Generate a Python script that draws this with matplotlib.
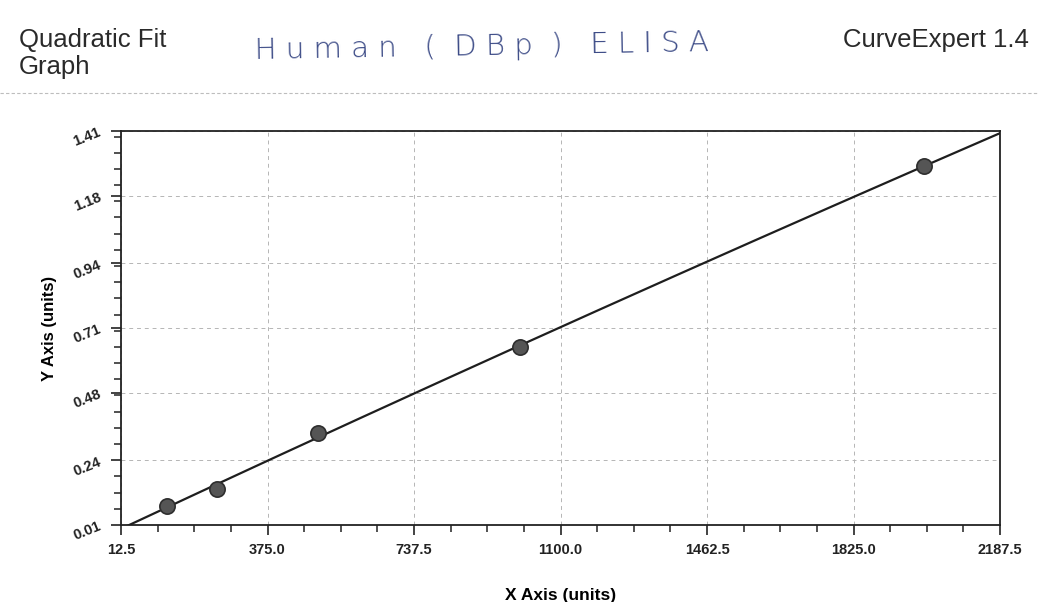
import matplotlib

matplotlib.use("Agg")
import matplotlib.pyplot as plt
import numpy as np
from matplotlib.ticker import AutoMinorLocator

# standards
conc = [125.0, 250.0, 500.0, 1000.0, 2000.0]
od = [0.078, 0.138, 0.337, 0.642, 1.286]

x_ticks = [12.5, 375.0, 737.5, 1100.0, 1462.5, 1825.0, 2187.5]
y_ticks = [0.01, 0.24, 0.48, 0.71, 0.94, 1.18, 1.41]
y_tick_labels = ["0.01", "0.24", "0.48", "0.71", "0.94", "1.18", "1.41"]

plt.rcParams["font.family"] = ["Liberation Sans", "DejaVu Sans"]

fig = plt.figure(figsize=(10.39, 6.02), dpi=100)
ax = fig.add_axes([0.1165, 0.128, 0.846, 0.6545])

# quadratic fit of the standards, as the page title says
coef = np.polyfit(conc, od, 2)
xs = np.linspace(x_ticks[0], x_ticks[-1], 400)
ax.plot(xs, np.polyval(coef, xs), color="#1e1e1e", lw=1.6, zorder=3)
ax.plot(conc, od, "o", ms=11, mfc="#555555", mec="#2e2e2e", mew=1.2, zorder=4)

ax.set_xlim(x_ticks[0], x_ticks[-1])
ax.set_ylim(y_ticks[0], y_ticks[-1])
ax.set_xticks(x_ticks)
ax.set_xticklabels([f"{v:.1f}" for v in x_ticks])
ax.set_yticks(y_ticks)
ax.set_yticklabels(y_tick_labels, rotation=22)
ax.xaxis.set_minor_locator(AutoMinorLocator(4))
ax.yaxis.set_minor_locator(AutoMinorLocator(4))
ax.tick_params(which="major", direction="out", length=7, width=1.2, color="#222222",
               labelsize=10.5, labelcolor="#222222", pad=6)
ax.tick_params(which="minor", direction="out", length=5, width=1.1, color="#222222")
for lbl in ax.get_xticklabels() + ax.get_yticklabels():
    lbl.set_fontweight("bold")
ax.grid(True, which="major", ls=(0, (4, 4)), color="#b5b5b5", lw=0.7)
for sp in ax.spines.values():
    sp.set_color("#222222")
    sp.set_linewidth(1.3)

ax.set_xlabel("X Axis (units)", fontsize=12.5, fontweight="bold", labelpad=22)
ax.set_ylabel("Y Axis (units)", fontsize=12, fontweight="bold", labelpad=10)

# page header of the printout
fig.text(0.018, 0.953, "Quadratic Fit\nGraph", fontsize=18.5, va="top", ha="left",
         color="#2a2a2a", linespacing=1.15)
fig.text(0.99, 0.933, "CurveExpert 1.4", fontsize=18.5, va="center", ha="right",
         color="#2a2a2a")
fig.text(0.245, 0.922, "H u m a n   (  D B p  )   E L I S A", fontsize=21,
         va="center", ha="left", color="#3b4a86", fontweight="light",
         fontfamily="DejaVu Sans", rotation=1)
fig.add_artist(plt.Line2D([0.0, 1.0], [0.845, 0.845], transform=fig.transFigure,
                          color="#bdbdbd", lw=0.8, ls=(0, (3, 2))))

fig.savefig("out.png", dpi=100)
